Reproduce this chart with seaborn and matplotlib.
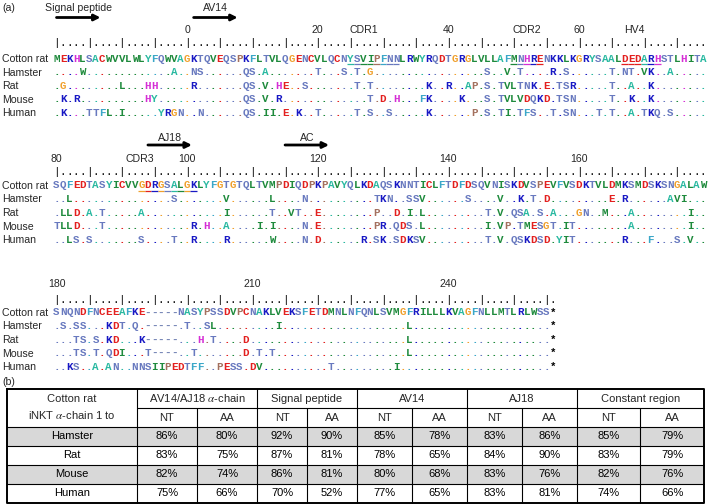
import matplotlib
matplotlib.use('Agg')
import matplotlib.pyplot as plt
import numpy as np
import pandas as pd
import seaborn as sns
from matplotlib.colors import ListedColormap

sns.set_style('white')
plt.rcParams['font.family'] = ['Liberation Sans', 'DejaVu Sans']
plt.rcParams['mathtext.fontset'] = 'stix'

# ---------------- data ----------------
species = ['Cotton rat', 'Hamster', 'Rat', 'Mouse', 'Human']

# block 1 : positions -20 .. 79
block1 = [
    "MEKHLSACWV" "VLWLYFQWVA" "GKTQVEQSPK" "FLTVLQGENC" "VLQCNYSVIP"
    "FNNLRWYRQD" "TGRGLVLLAF" "MNHRENKKLK" "GRYSAALDED" "ARHSTLHITA",
    "....W....." "........A." ".NS......Q" "S.A......." "T...S.T.G."
    ".........." "......S..V" ".T....R.S." ".....T.NT." "VK..A.....",
    ".G........" "L...HH...." ".R.......Q" "S.V.HE..S." "......T.T."
    ".......K.." "R..AP.S.TV" "LTNK.E.TSR" ".....T..A." ".K........",
    ".K.R......" "....HY...." ".........Q" "S.V.R....." "........T."
    "D.H...FK.." "..K...S.TV" "LVDQKD.TSN" ".....T..K." ".K........",
    ".K...TTFL." "I.....YRGN" "..N......Q" "S.II.E.K.." "T.....T.S."
    ".S.....K.." "....P.S.TI" ".TFS..T.SN" "...T.T..A." "TKQ.S.....",
]

# block 2 : positions 80 .. 179
block2 = [
    "SQFEDTASYI" "CVVGDRGSAL" "GKLYFGTGTQ" "LTVMPDIQDP" "KPAVYQLKDA"
    "QSKNNTICLF" "TDFDSQVNIS" "KDVSPEVFVS" "DKTVLDMKSM" "DSKSNGALAW",
    "..L......." "........S." "......V..." "...L....N." ".........T"
    "KN..SSV..." "...S....V." ".K.T.D...." ".....E.R.." "....AVI...",
    ".LLD.A.T.." "...A......" "......I..." "...T..VT.." "E........P"
    "..D.I.L..." "......T.V." "QSA.S.A..." "GN..M...A." ".......I..",
    "TLLD...T.." ".........." ".R.H..A..." ".I.I....N." "E........P"
    "R.QDS.L..." "......I.VP" ".TMESGT.IT" "........A." ".......I..",
    "..LS.S...." "...S....T." ".R....R..." "...W....N." "D......R.S"
    "K.SDKSV..." "......T.V." "QSKDSD.YIT" ".......R.." ".F...S.V..",
]

# block 3 : positions 180 .. end
block3 = [
    "SNQNDFNCEE" "AFKE-----N" "ASYPSSDVPC" "NAKLVEKSFE" "TDMNLNFQNL"
    "SVMGFRILLL" "KVAGFNLLMT" "LRLWSS*",
    ".S.SS...KD" "T.Q.-----." "T..SL....." "....I....." ".........."
    "....L....." ".........." "......*",
    "...TS.S.KD" "...K-----." "..H.T....D" ".........." ".........."
    "....L....." ".........." "......*",
    "...TS.T.QD" "I...T----." ".T.......D" ".T.T......" ".........."
    "....L....." ".........." "......*",
    "..KS..A.AN" "..NNSIIPED" "TFF..PESS." "DV........" "..T......."
    "..I......." ".........." "......*",
]

ruler_numbers = [
    [(20, '0'), (40, '20'), (60, '40'), (80, '60')],
    [(0, '80'), (20, '100'), (40, '120'), (60, '140'), (80, '160')],
    [(0, '180'), (30, '210'), (60, '240')],
]
region_names = [
    [(47, 'CDR1'), (72, 'CDR2'), (88.5, 'HV4')],
    [(12.8, 'CDR3')],
    [],
]
underlined = [
    [(45, 52), (70, 74), (87, 92)],
    [(13, 21)],
    [],
]
domains = [
    [(0, 'Signal peptide'), (21, 'AV14')],
    [(14, 'AJ18'), (35, 'AC')],
    [],
]

groups = ['AV14/AJ18 $\\alpha$-chain', 'Signal peptide', 'AV14', 'AJ18', 'Constant region']
compared = ['Hamster', 'Rat', 'Mouse', 'Human']
nt_identity = [[86, 92, 85, 83, 85],
               [83, 87, 78, 84, 83],
               [82, 86, 80, 83, 82],
               [75, 70, 77, 83, 74]]
aa_identity = [[80, 90, 78, 86, 79],
               [75, 81, 65, 90, 79],
               [74, 81, 68, 76, 76],
               [66, 52, 65, 81, 66]]
row_shaded = [1, 0, 1, 0]

res_colors = {
    'D': '#e3201f', 'E': '#e3201f', 'C': '#e3201f',
    'K': '#1818c4', 'R': '#1818c4',
    'H': '#d52fd5',
    'L': '#1e8a3c', 'I': '#1e8a3c', 'V': '#1e8a3c', 'M': '#1e8a3c', 'W': '#1e8a3c',
    'A': '#2ab9a1', 'Y': '#2ab9a1', 'F': '#3aa7c8',
    'G': '#f0a02c',
    'S': '#6879bf', 'T': '#6879bf', 'Q': '#6879bf', 'N': '#6879bf',
    'P': '#a4705e', '-': '#7282b4', '*': '#000000',
}

# ---------------- layout ----------------
X0, CW = 56.5, 6.53
ROW_DY = 13.6
MONO = 'Liberation Mono'
FS_SEQ = 7.8
FS_LAB = 7.6
ARROW_LEN = 44

ref_y = [58.3, 185.0, 312.0]
ruler_y = [43.0, 172.0, 299.5]
num_y = [29.5, 158.0, 283.0]
arrow_y = [17.5, 145.0, None]
title_y = [7.5, 137.0, None]


def colx(c):
    return X0 + CW * c


fig = plt.figure(figsize=(7.09, 5.04), dpi=100)
ax = fig.add_axes([0, 0, 1, 1])
ax.set_xlim(0, 709)
ax.set_ylim(504, 0)
ax.axis('off')
ax.set_zorder(5)

ax.text(2, 7.5 + 3.8, '(a)', fontsize=FS_LAB, va='baseline')

for b, seqs in enumerate([block1, block2, block3]):
    ref = seqs[0]
    # domain arrows
    for c, name in domains[b]:
        x = colx(c)
        ax.annotate('', xy=(x + ARROW_LEN, arrow_y[b]), xytext=(x, arrow_y[b]),
                    arrowprops=dict(arrowstyle='-|>', lw=2.0, color='black',
                                    mutation_scale=9, shrinkA=0, shrinkB=0))
        ax.text(x + ARROW_LEN / 2, title_y[b] + 3.8, name, fontsize=FS_LAB,
                ha='center', va='baseline')
    # numbers / region names
    for c, lab in ruler_numbers[b] + region_names[b]:
        ax.text(colx(c), num_y[b] + 3.8, lab, fontsize=FS_LAB, ha='center', va='baseline')
    # ruler
    for c in range(len(ref)):
        ax.text(colx(c), ruler_y[b] + 3.4, '|' if c % 5 == 0 else '.', fontsize=FS_SEQ,
                family=MONO, ha='center', va='baseline', color='black')
    # sequences
    for r, seq in enumerate(seqs):
        y = ref_y[b] + r * ROW_DY
        ax.text(2, y + 3.8, species[r], fontsize=FS_LAB, va='baseline', ha='left')
        for c, ch in enumerate(seq):
            key = ref[c] if ch == '.' else ch
            ax.text(colx(c), y + 3.4, ch, color=res_colors.get(key, '#6879bf'),
                    fontsize=FS_SEQ, family=MONO, weight='bold',
                    ha='center', va='baseline')
    # underlined regions in the reference sequence
    for c0, c1 in underlined[b]:
        for c in range(c0, c1 + 1):
            ax.plot([colx(c) - CW / 2, colx(c) + CW / 2], [ref_y[b] + 5.6] * 2,
                    color=res_colors[ref[c]], lw=0.9, solid_capstyle='butt')

# ---------------- table ----------------
ax.text(2, 381.5 + 3.8, '(b)', fontsize=FS_LAB, va='baseline')

col_edges = [7, 137, 197, 257, 307, 357, 412, 467, 522, 577, 640, 704]
T_TOP, RH = 388.5, 19.0
T_LEFT, T_RIGHT = col_edges[0], col_edges[-1]
T_BOT = T_TOP + 6 * RH
FS_TAB = 8.0
fig_h, fig_w = 504.0, 709.0
cmap = ListedColormap(['white', '#d8d8d8'])


def table_axes(x0, x1):
    return fig.add_axes([x0 / fig_w, 1 - T_BOT / fig_h, (x1 - x0) / fig_w, 4 * RH / fig_h])


kw = dict(cmap=cmap, vmin=0, vmax=1, cbar=False, fmt='', xticklabels=False,
          yticklabels=False, linewidths=0,
          annot_kws={'fontsize': FS_TAB, 'color': 'black'})

names_df = pd.DataFrame({'shade': row_shaded}, index=compared)
sns.heatmap(names_df, ax=table_axes(col_edges[0], col_edges[1]),
            annot=np.array(compared).reshape(-1, 1), **kw)

for g in range(len(groups)):
    shade = pd.DataFrame({'NT': row_shaded, 'AA': row_shaded}, index=compared)
    pct = pd.DataFrame({'NT': [f'{row[g]}%' for row in nt_identity],
                        'AA': [f'{row[g]}%' for row in aa_identity]}, index=compared)
    sns.heatmap(shade, ax=table_axes(col_edges[1 + 2 * g], col_edges[3 + 2 * g]),
                annot=pct.values, **kw)

# header text
mid0 = (col_edges[0] + col_edges[1]) / 2
ax.text(mid0, T_TOP + 0.5 * RH + 3.9, 'Cotton rat', fontsize=FS_TAB, ha='center', va='baseline')
ax.text(mid0, T_TOP + 1.4 * RH + 3.9, 'iNKT $\\alpha$-chain 1 to', fontsize=FS_TAB,
        ha='center', va='baseline')
for g, name in enumerate(groups):
    e0, e1, e2 = col_edges[1 + 2 * g], col_edges[2 + 2 * g], col_edges[3 + 2 * g]
    ax.text((e0 + e2) / 2, T_TOP + 0.5 * RH + 3.9, name, fontsize=FS_TAB, ha='center', va='baseline')
    ax.text((e0 + e1) / 2, T_TOP + 1.5 * RH + 3.9, 'NT', fontsize=FS_TAB, ha='center', va='baseline')
    ax.text((e1 + e2) / 2, T_TOP + 1.5 * RH + 3.9, 'AA', fontsize=FS_TAB, ha='center', va='baseline')

# grid lines
LW = 0.8
ax.plot([col_edges[1], T_RIGHT], [T_TOP + RH] * 2, color='black', lw=LW)
for k in range(2, 6):
    ax.plot([T_LEFT, T_RIGHT], [T_TOP + k * RH] * 2, color='black', lw=LW)
for i in range(1, len(col_edges) - 1):
    y0 = T_TOP if i % 2 == 1 else T_TOP + RH
    ax.plot([col_edges[i]] * 2, [y0, T_BOT], color='black', lw=LW)
ax.plot([T_LEFT, T_RIGHT, T_RIGHT, T_LEFT, T_LEFT],
        [T_TOP, T_TOP, T_BOT, T_BOT, T_TOP], color='black', lw=1.4)

fig.savefig('out.png', dpi=100)
